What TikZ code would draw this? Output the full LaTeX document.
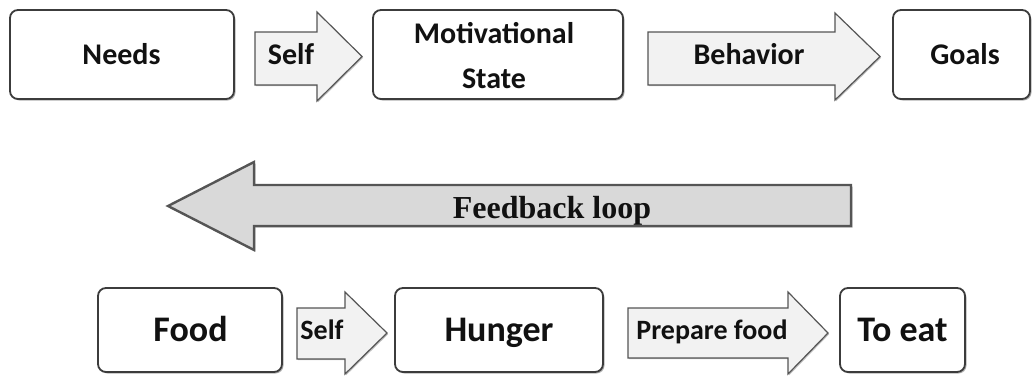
\documentclass[tikz,border=0pt]{standalone}
\usepackage{fontspec}
\newfontfamily\boxfont{Carlito}
\newfontfamily\loopfont{Liberation Serif}
\usetikzlibrary{shadows}

\definecolor{boxline}{HTML}{3C3C3C}
\definecolor{arrowline}{HTML}{555555}
\definecolor{arrowfill}{HTML}{F2F2F2}
\definecolor{loopfill}{HTML}{D9D9D9}
\definecolor{ink}{HTML}{111111}

\tikzset{
  box/.style={draw=boxline, line width=1.8pt, fill=white, rounded corners=8pt,
    drop shadow={shadow xshift=1.5pt, shadow yshift=-1.5pt, opacity=0.3, fill=black}},
  blockarrow/.style={draw=arrowline, line width=1.2pt, fill=arrowfill, line join=miter,
    drop shadow={shadow xshift=1.2pt, shadow yshift=-1.2pt, opacity=0.25, fill=black}},
  looparrow/.style={draw=arrowline, line width=2.4pt, fill=loopfill, line join=miter,
    drop shadow={shadow xshift=1.5pt, shadow yshift=-1.5pt, opacity=0.3, fill=black}},
  lbl/.style={text=ink, inner sep=0pt, anchor=base},
  toplabel/.style={lbl, font=\boxfont\bfseries\fontsize{30}{45}\selectfont},
  biglabel/.style={lbl, font=\boxfont\bfseries\fontsize{36}{40}\selectfont},
  smalllabel/.style={lbl, font=\boxfont\bfseries\fontsize{28}{32}\selectfont},
  looplabel/.style={lbl, font=\loopfont\bfseries\fontsize{32}{36}\selectfont},
}

\begin{document}
\begin{tikzpicture}[x=1pt,y=-1pt]
\useasboundingbox (0,0) rectangle (1032,375);

% ---- upper chain: needs -> motivational state -> goals
\draw[box] (10,10) rectangle (234,99);
\draw[blockarrow] (255,32) -- (317,32) -- (317,12) -- (362,56.5) -- (317,101) -- (317,85) -- (255,85) -- cycle;
\draw[box] (373,10) rectangle (623,99);
\draw[blockarrow] (648,32) -- (835,32) -- (835,13) -- (880,56.5) -- (835,100) -- (835,85) -- (648,85) -- cycle;
\draw[box] (893,10) rectangle (1030,99);

\node[toplabel] (needs) at (121.5,64) {Needs};
\node[toplabel] (self1) at (291,64) {Self};
% base of a two-line node is the baseline of its last line
\node[toplabel, align=center] (motiv) at (494,88) {Motivational\\State};
\node[toplabel] (behav) at (749,64) {Behavior};
\node[toplabel] (goals) at (965,64) {Goals};

% ---- feedback arrow pointing back
\draw[looparrow] (851,185) -- (254,185) -- (254,162) -- (168,206) -- (254,250) -- (254,226) -- (851,226) -- cycle;
\node[looplabel] (loop) at (552,218) {Feedback loop};

% ---- lower chain: food -> hunger -> to eat
\draw[box] (98,288) rectangle (282,372);
\draw[blockarrow] (297,308) -- (345,308) -- (345,292) -- (387,333) -- (345,374) -- (345,359) -- (297,359) -- cycle;
\draw[box] (395,288) rectangle (603,372);
\draw[blockarrow] (628,308) -- (788,308) -- (788,292) -- (828,333) -- (788,374) -- (788,358) -- (628,358) -- cycle;
\draw[box] (840,288) rectangle (965,372);

\node[biglabel] (food) at (190.5,341) {Food};
\node[smalllabel] (self2) at (322,339) {Self};
\node[biglabel] (hunger) at (499,341) {Hunger};
\node[smalllabel] (prep) at (712,339) {Prepare food};
\node[biglabel] (toeat) at (902.5,341) {To eat};
\end{tikzpicture}
\end{document}
